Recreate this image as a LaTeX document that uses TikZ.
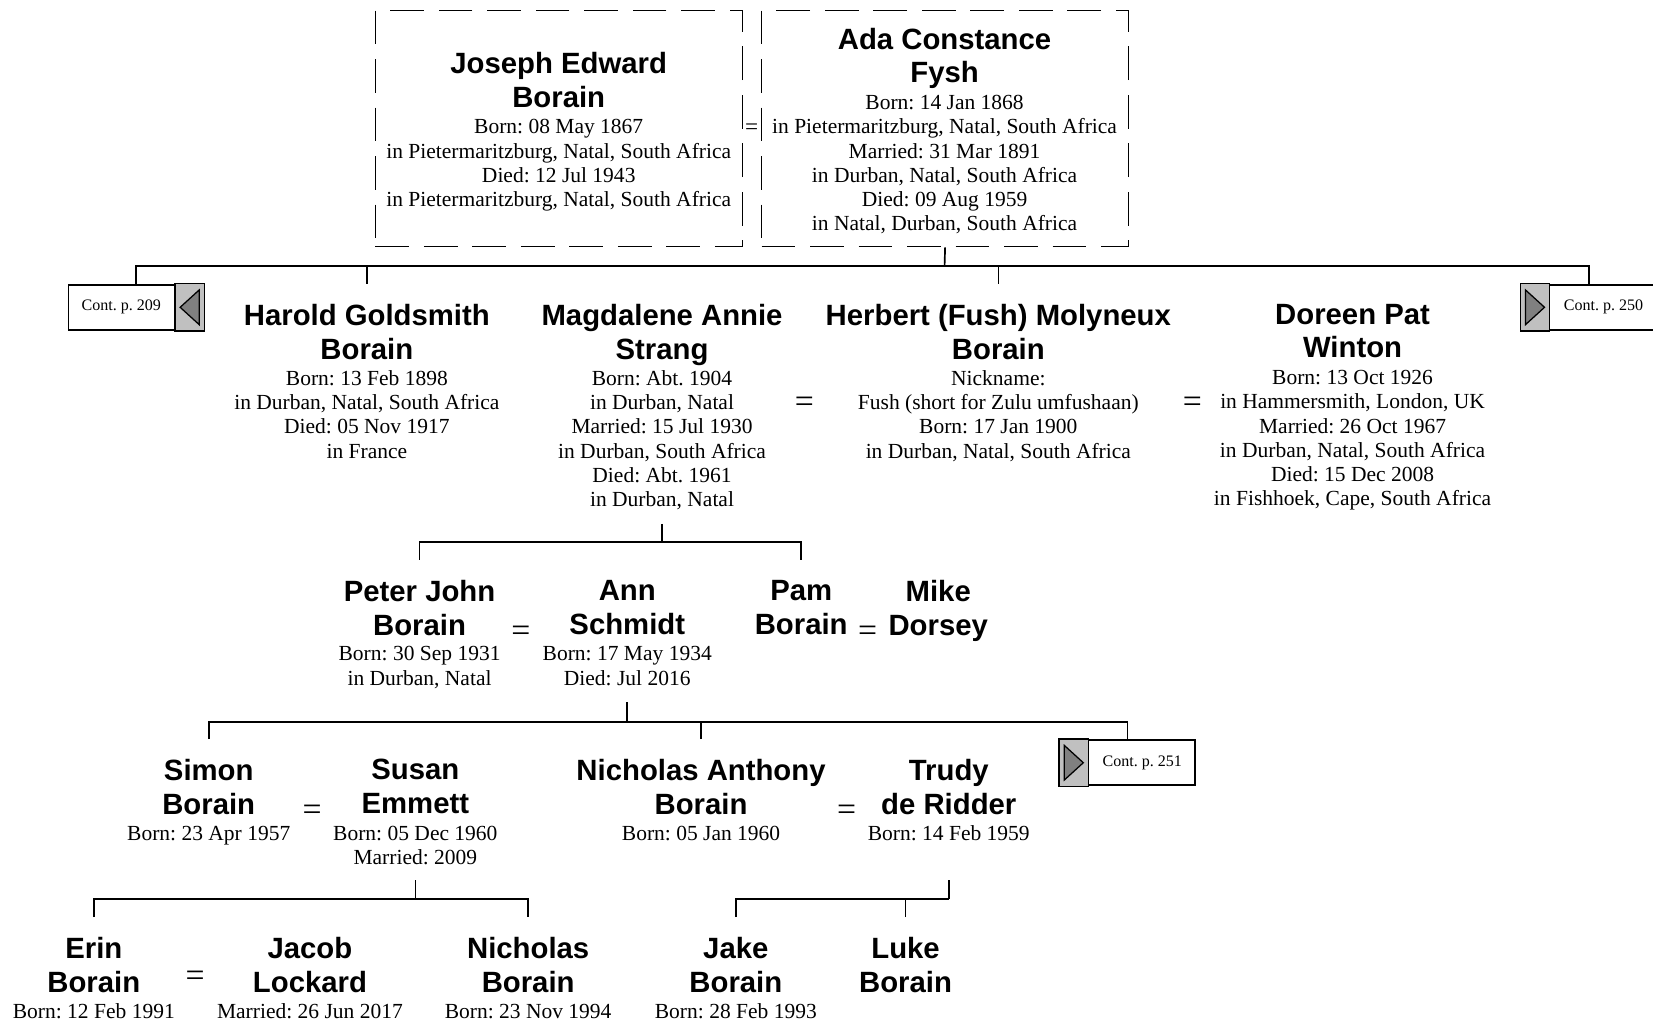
\documentclass[tikz,border=0pt]{standalone}
\usepackage{fontspec}
\setmainfont{Liberation Serif}
\setsansfont{Liberation Sans}
\usetikzlibrary{calc}
\definecolor{contfill}{HTML}{C0C0C0}
\definecolor{contarrow}{HTML}{808080}
\frenchspacing

\begin{document}
\begin{tikzpicture}[x=0.5pt,y=-0.5pt,
  pname/.style={font=\sffamily\bfseries\fontsize{13.9}{16}\selectfont,align=center,anchor=north,inner xsep=0pt,inner ysep=9.5pt},
  pinfo/.style={font=\fontsize{10.2}{11.5}\selectfont,align=center,anchor=north,inner sep=0pt},
  wed/.style={font=\fontsize{16}{16}\selectfont,inner sep=0pt},
  couple/.style={draw,dash pattern=on 16pt off 7pt,line width=0.6pt,minimum width=174pt,minimum height=112pt,inner sep=0pt},
  contbox/.style={draw,line width=0.9pt,fill=white,minimum width=64pt,minimum height=21.5pt,inner sep=0pt,font=\fontsize{7.6}{9}\selectfont},
  link/.style={line width=0.8pt}]
  \useasboundingbox (0,0) rectangle (1568,968);

  \node[couple] (josephBox) at (530,122) {};
  \node[couple] (adaBox) at (896.5,122) {};
  \node[pname] (joseph) at (530,30) {Joseph Edward\\Borain};
  \node[pinfo] (josephInfo) at (530,113) {Born: 08 May 1867\\in Pietermaritzburg, Natal, South Africa\\Died: 12 Jul 1943\\in Pietermaritzburg, Natal, South Africa};
  \node[wed,font=\fontsize{11}{11}\selectfont] (josephWed) at (713,123) {=};
  \node[pname] (ada) at (896,7) {Ada Constance\\Fysh};
  \node[pinfo] (adaInfo) at (896,90) {Born: 14 Jan 1868\\in Pietermaritzburg, Natal, South Africa\\Married: 31 Mar 1891\\in Durban, Natal, South Africa\\Died: 09 Aug 1959\\in Natal, Durban, South Africa};

  \node[contbox] (cont209) at (129,291.5) {Cont. p. 209\hspace*{14pt}};
  \draw[line width=0.6pt,fill=contfill] ([xshift=-14pt]cont209.south east) rectangle (cont209.north east);
  \draw[line width=0.6pt,fill=contarrow] ([xshift=-11.5pt]cont209.east) -- ([xshift=-2.5pt,yshift=-3pt]cont209.north east) -- ([xshift=-2.5pt,yshift=3pt]cont209.south east) -- cycle;
  \node[contbox] (cont250) at (1507,291.5) {\hspace*{14pt}Cont. p. 250};
  \draw[line width=0.6pt,fill=contfill] ([xshift=14pt]cont250.south west) rectangle (cont250.north west);
  \draw[line width=0.6pt,fill=contarrow] ([xshift=11.5pt]cont250.west) -- ([xshift=2.5pt,yshift=-3pt]cont250.north west) -- ([xshift=2.5pt,yshift=3pt]cont250.south west) -- cycle;

  \node[pname] (harold) at (348,269) {Harold Goldsmith\\Borain};
  \node[pinfo] (haroldInfo) at (348,351) {Born: 13 Feb 1898\\in Durban, Natal, South Africa\\Died: 05 Nov 1917\\in France};
  \node[pname] (magdalene) at (628,269) {Magdalene Annie\\Strang};
  \node[pinfo] (magdaleneInfo) at (628,351) {Born: Abt. 1904\\in Durban, Natal\\Married: 15 Jul 1930\\in Durban, South Africa\\Died: Abt. 1961\\in Durban, Natal};
  \node[wed] (herbertWed) at (763,384) {=};
  \node[pname] (herbert) at (947,269) {Herbert (Fush) Molyneux\\Borain};
  \node[pinfo] (herbertInfo) at (947,351) {Nickname:\\Fush (short for Zulu umfushaan)\\Born: 17 Jan 1900\\in Durban, Natal, South Africa};
  \node[wed] (doreenWed) at (1131,384) {=};
  \node[pname] (doreen) at (1283,269) {Doreen Pat\\Winton};
  \node[pinfo] (doreenInfo) at (1283,351) {Born: 13 Oct 1926\\in Hammersmith, London, UK\\Married: 26 Oct 1967\\in Durban, Natal, South Africa\\Died: 15 Dec 2008\\in Fishhoek, Cape, South Africa};

  \node[pname] (peter) at (398,531) {Peter John\\Borain};
  \node[pinfo] (peterInfo) at (398,613) {Born: 30 Sep 1931\\in Durban, Natal};
  \node[wed] (peterWed) at (494,601) {=};
  \node[pname] (ann) at (595,531) {Ann\\Schmidt};
  \node[pinfo] (annInfo) at (595,613) {Born: 17 May 1934\\Died: Jul 2016};
  \node[pname] (pam) at (760,531) {Pam\\Borain};
  \node[wed] (pamWed) at (823,601) {=};
  \node[pname] (mike) at (890,531) {Mike\\Dorsey};

  \node[pname] (simon) at (198,701) {Simon\\Borain};
  \node[pinfo] (simonInfo) at (198,783) {Born: 23 Apr 1957};
  \node[wed] (simonWed) at (296,771) {=};
  \node[pname] (susan) at (394,701) {Susan\\Emmett};
  \node[pinfo] (susanInfo) at (394,783) {Born: 05 Dec 1960\\Married: 2009};
  \node[pname] (nicholasA) at (665,701) {Nicholas Anthony\\Borain};
  \node[pinfo] (nicholasAInfo) at (665,783) {Born: 05 Jan 1960};
  \node[wed] (nicholasAWed) at (803,771) {=};
  \node[pname] (trudy) at (900,701) {Trudy\\de Ridder};
  \node[pinfo] (trudyInfo) at (900,783) {Born: 14 Feb 1959};
  \node[contbox] (cont251) at (1069.5,723.5) {\hspace*{14pt}Cont. p. 251};
  \draw[line width=0.6pt,fill=contfill] ([xshift=14pt]cont251.south west) rectangle (cont251.north west);
  \draw[line width=0.6pt,fill=contarrow] ([xshift=11.5pt]cont251.west) -- ([xshift=2.5pt,yshift=-3pt]cont251.north west) -- ([xshift=2.5pt,yshift=3pt]cont251.south west) -- cycle;

  \node[pname] (erin) at (89,870) {Erin\\Borain};
  \node[pinfo] (erinInfo) at (89,952) {Born: 12 Feb 1991};
  \node[wed] (erinWed) at (185,928) {=};
  \node[pname] (jacob) at (294,870) {Jacob\\Lockard};
  \node[pinfo] (jacobInfo) at (294,952) {Married: 26 Jun 2017};
  \node[pname] (nicholasB) at (501,870) {Nicholas\\Borain};
  \node[pinfo] (nicholasBInfo) at (501,952) {Born: 23 Nov 1994};
  \node[pname] (jake) at (698,870) {Jake\\Borain};
  \node[pinfo] (jakeInfo) at (698,952) {Born: 28 Feb 1993};
  \node[pname] (luke) at (859,870) {Luke\\Borain};

  \coordinate (topBar) at (896,252);
  \coordinate (magdaleneDrop) at (628,497);
  \coordinate (magdaleneBar) at (628,514);
  \coordinate (annDrop) at (595,666);
  \coordinate (annBar) at (595,685);
  \coordinate (susanDrop) at (394,835);
  \coordinate (susanBar) at (394,853);
  \coordinate (trudyDrop) at (900,835);
  \coordinate (trudyBar) at (900,853);

  \draw[link] (adaBox.south) -- (topBar);
  \draw[link] (cont209.north) |- (topBar) -| (cont250.north);
  \draw[link] (harold.north) -- (harold.north |- topBar);
  \draw[link] (herbert.north) -- (herbert.north |- topBar);
  \draw[link] (magdaleneDrop) -- (magdaleneBar);
  \draw[link] (peter.north) |- (magdaleneBar) -| (pam.north);
  \draw[link] (annDrop) -- (annBar);
  \draw[link] (simon.north) |- (annBar) -| (cont251.north);
  \draw[link] (nicholasA.north) -- (nicholasA.north |- annBar);
  \draw[link] (susanDrop) -- (susanBar);
  \draw[link] (erin.north) |- (susanBar) -| (nicholasB.north);
  \draw[link] (trudyDrop) -- (trudyBar);
  \draw[link] (jake.north) |- (trudyBar);
  \draw[link] (luke.north) -- (luke.north |- trudyBar);
\end{tikzpicture}
\end{document}
